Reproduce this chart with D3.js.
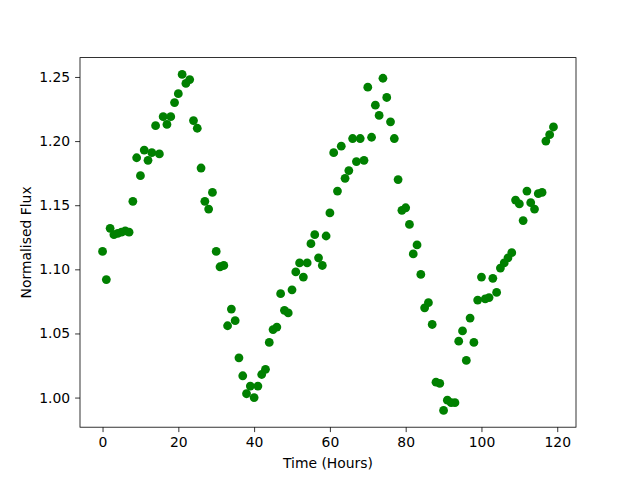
<!DOCTYPE html>
<html>
<head>
<meta charset="utf-8">
<script src="https://cdn.jsdelivr.net/npm/d3@7"></script>
<style>
  html, body { margin: 0; padding: 0; background: #fff; }
  svg text { font-family: "DejaVu Sans", sans-serif; font-size: 13.9px; fill: #000; }
</style>
</head>
<body>
<svg id="chart" width="640" height="480"></svg>
<script>
// Time in hours
const hours = d3.range(0, 120);
// Normalised flux values
const flux = [
  1.114, 1.092, 1.132, 1.127, 1.128, 1.129, 1.130, 1.129, 1.153, 1.187,
  1.173, 1.193, 1.185, 1.191, 1.212, 1.190, 1.219, 1.213, 1.219, 1.230,
  1.237, 1.252, 1.245, 1.248, 1.216, 1.210, 1.179, 1.153, 1.147, 1.160,
  1.114, 1.102, 1.103, 1.056, 1.069, 1.060, 1.031, 1.017, 1.003, 1.009,
  1.000, 1.009, 1.018, 1.022, 1.043, 1.053, 1.055, 1.081, 1.068, 1.066,
  1.084, 1.098, 1.105, 1.094, 1.105, 1.120, 1.127, 1.109, 1.103, 1.126,
  1.144, 1.191, 1.161, 1.196, 1.171, 1.177, 1.202, 1.184, 1.202, 1.185,
  1.242, 1.203, 1.228, 1.220, 1.249, 1.234, 1.215, 1.202, 1.170, 1.146,
  1.148, 1.135, 1.112, 1.119, 1.096, 1.070, 1.074, 1.057, 1.012, 1.011,
  0.990, 0.998, 0.996, 0.996, 1.044, 1.052, 1.029, 1.062, 1.043, 1.076,
  1.094, 1.077, 1.078, 1.093, 1.082, 1.101, 1.105, 1.109, 1.113, 1.154,
  1.151, 1.138, 1.161, 1.152, 1.147, 1.159, 1.160, 1.200, 1.205, 1.211
];
const xTicks = [0, 20, 40, 60, 80, 100, 120];
const yTicks = [1.00, 1.05, 1.10, 1.15, 1.20, 1.25];
const xLabel = "Time (Hours)";
const yLabel = "Normalised Flux";

(function () {
const mLeft = 80, mRight = 576, mTop = 57.6, mBottom = 427.2;

const svg = d3.select("#chart");

const xMin = d3.min(hours), xMax = d3.max(hours);
const yMin = d3.min(flux), yMax = d3.max(flux);
const xPad = (xMax - xMin) * 0.05, yPad = (yMax - yMin) * 0.05;

const x = d3.scaleLinear().domain([xMin - xPad, xMax + xPad]).range([mLeft, mRight]);
const y = d3.scaleLinear().domain([yMin - yPad, yMax + yPad]).range([mBottom, mTop]);

// points
svg.append("g")
  .selectAll("circle")
  .data(hours.map((h, i) => ({ h, f: flux[i] })))
  .join("circle")
  .attr("cx", d => x(d.h))
  .attr("cy", d => y(d.f))
  .attr("r", 4.4)
  .attr("fill", "#008000");

// axes
const xAxis = d3.axisBottom(x).tickValues(xTicks).tickFormat(d3.format("d"))
  .tickSizeInner(4.9).tickSizeOuter(0).tickPadding(4.9);
const yAxis = d3.axisLeft(y).tickValues(yTicks).tickFormat(d3.format(".2f"))
  .tickSizeInner(4.9).tickSizeOuter(0).tickPadding(4.9);

const gx = svg.append("g").attr("transform", `translate(0,${mBottom})`).call(xAxis);
const gy = svg.append("g").attr("transform", `translate(${mLeft},0)`).call(yAxis);
[gx, gy].forEach(g => {
  g.select(".domain").remove();
  g.selectAll(".tick line").attr("stroke", "#000").attr("stroke-width", 0.8);
  g.selectAll(".tick text").attr("font-family", "DejaVu Sans").attr("font-size", 13.9).attr("fill", "#000");
});

// frame
svg.append("rect")
  .attr("x", mLeft).attr("y", mTop)
  .attr("width", mRight - mLeft).attr("height", mBottom - mTop)
  .attr("fill", "none").attr("stroke", "#000").attr("stroke-width", 0.8);

// labels
svg.append("text")
  .attr("x", (mLeft + mRight) / 2).attr("y", 468)
  .attr("text-anchor", "middle")
  .text(xLabel);
svg.append("text")
  .attr("transform", `translate(31,${(mTop + mBottom) / 2}) rotate(-90)`)
  .attr("text-anchor", "middle")
  .text(yLabel);
})();
</script>
</body>
</html>
